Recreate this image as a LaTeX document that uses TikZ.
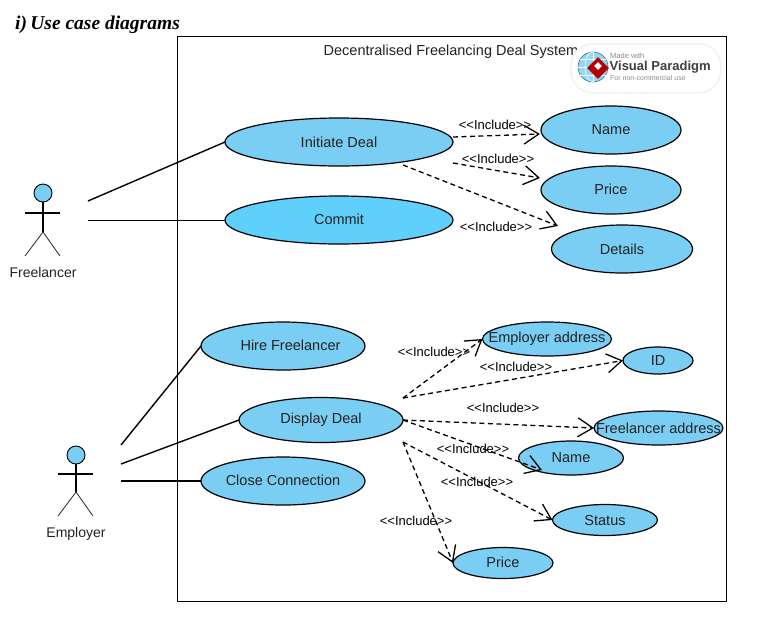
\documentclass[tikz,border=0pt]{standalone}
\usepackage{fontspec}
\setmainfont{Liberation Sans}
\newfontfamily\headfont{Liberation Serif}
\usetikzlibrary{shapes.geometric,arrows.meta}
\definecolor{ucfill}{HTML}{7ACEF4}
\definecolor{ucbright}{HTML}{5FCFFC}
\definecolor{txt}{HTML}{222222}
\newcommand{\uctext}[1]{\makebox[0pt]{#1}}
\newcommand{\inctext}{{<}{<}Include{>}{>}}
\tikzset{
  usecase/.style={ellipse,draw=black,line width=1.2pt,fill=ucfill,inner sep=0pt,outer sep=0pt,text=txt,font=\fontsize{14.5}{16}\selectfont},
  inc/.style={draw=black,line width=1.3pt,dash pattern=on 5pt off 3.5pt,-{Straight Barb[length=15pt,width=19pt,line width=1.3pt]}},
  assoc/.style={draw=black,line width=1.4pt},
  inclabel/.style={inner sep=0pt,text=black,font=\fontsize{13}{15}\selectfont},
  actorhead/.style={circle,draw=black,line width=.9pt,fill=ucfill,minimum size=18pt,inner sep=0pt,outer sep=0pt},
  actorlabel/.style={inner sep=0pt,text=txt,font=\fontsize{14}{16}\selectfont},
  stick/.style={draw=black,line width=1.5pt},
  leg/.style={draw=black!85,line width=.8pt}
}
\begin{document}
\begin{tikzpicture}[x=1pt,y=-1pt]
\useasboundingbox (0,0) rectangle (757,622);
\fill[white] (0,0) rectangle (757,622);
\node[anchor=west,inner sep=0pt,font=\headfont\bfseries\itshape\fontsize{19.5}{22}\selectfont] (heading) at (15,25) {i)\,Use case diagrams};
\node[draw=black,line width=.8pt,minimum width=549pt,minimum height=565pt,inner sep=0pt,outer sep=0pt,anchor=north west] (system) at (177,36) {};
\node[inner sep=0pt,text=txt,font=\fontsize{14.5}{16}\selectfont] (systitle) at (451,52) {Decentralised Freelancing Deal System};

% logo
\node[draw=black!5,line width=1.5pt,fill=white,rounded corners=22pt,minimum width=150pt,minimum height=49pt,inner sep=0pt,anchor=north west] (logo) at (570,43) {};
\node[circle,draw=black!45!ucfill,line width=.6pt,fill=ucfill!80,minimum size=30pt,inner sep=0pt] (globe) at (593,67) {};
\draw[white,line width=.6pt] (globe.north) arc[start angle=90,end angle=270,x radius=8pt,y radius=15pt];
\draw[white,line width=.6pt] (globe.north) -- (globe.south);
\draw[white,line width=.6pt] (globe.west) -- (globe.east);
\draw[white,line width=.6pt] (580,59) -- (606,59) (580,75) -- (606,75);
\node[diamond,fill=red!70!black,minimum size=22pt,inner sep=0pt] (gem) at (598,68) {};
\node[diamond,fill=white,minimum size=8pt,inner sep=0pt] (gemcore) at (598,66) {};
\node[anchor=west,inner sep=0pt,text=black!45,font=\fontsize{7.5}{8}\selectfont] (logoa) at (610,56) {Made with};
\node[anchor=west,inner sep=0pt,text=black!75,font=\bfseries\fontsize{13}{14}\selectfont] (logob) at (609.5,67) {Visual Paradigm};
\node[anchor=west,inner sep=0pt,text=black!45,font=\fontsize{7}{8}\selectfont] (logoc) at (610,78) {For non-commercial use};

% use cases
\node[usecase,minimum width=228pt,minimum height=48pt] (initiate) at (339,142) {\uctext{Initiate Deal}};
\node[usecase,fill=ucbright,minimum width=228pt,minimum height=48pt] (commit) at (339,220) {\uctext{\raisebox{1pt}{Commit}}};
\node[usecase,minimum width=140pt,minimum height=48pt] (name1) at (611,130) {\uctext{Name}};
\node[usecase,minimum width=140pt,minimum height=48pt] (price1) at (611,190) {\uctext{\raisebox{1pt}{Price}}};
\node[usecase,minimum width=141pt,minimum height=48pt] (details) at (622,249) {\uctext{Details}};
\node[usecase,minimum width=164pt,minimum height=48pt] (hire) at (283,346) {\uctext{\hspace{15pt}\raisebox{2pt}{Hire Freelancer}}};
\node[usecase,minimum width=164pt,minimum height=45pt] (display) at (321,420) {\uctext{\raisebox{-1pt}{Display Deal}}};
\node[usecase,minimum width=164pt,minimum height=48pt] (close) at (283,481) {\uctext{\raisebox{1pt}{Close Connection}}};
\node[usecase,minimum width=129pt,minimum height=34pt] (empaddr) at (547,339) {\uctext{Employer address}};
\node[usecase,minimum width=70pt,minimum height=27pt] (id) at (658,360.5) {\uctext{ID}};
\node[usecase,minimum width=129pt,minimum height=34pt] (freeaddr) at (658.5,428) {\uctext{Freelancer address}};
\node[usecase,minimum width=105pt,minimum height=34pt] (name2) at (571,458) {\uctext{Name}};
\node[usecase,minimum width=105pt,minimum height=31pt] (status) at (605,520) {\uctext{Status}};
\node[usecase,minimum width=100pt,minimum height=31pt] (price2) at (503,563) {\uctext{\raisebox{1pt}{Price}}};

% actors
\node[actorhead] (freelancer) at (43,193) {};
\coordinate (fhip) at (43,232);
\draw[stick] (freelancer.south) -- (fhip);
\draw[stick] (25,213) -- (60,213);
\draw[leg] (25,256) -- (fhip) -- (60,256);
\node[actorlabel] (flabel) at (43,272) {Freelancer};
\node[actorhead] (employer) at (76,455) {};
\coordinate (ehip) at (76,492);
\draw[stick] (employer.south) -- (ehip);
\draw[stick] (58,474) -- (93,474);
\draw[leg] (58,516) -- (ehip) -- (93,516);
\node[actorlabel] (elabel) at (76,534) {Employer};

% associations
\coordinate (fa) at (88,201);
\coordinate (fb) at (88,220);
\coordinate (ea) at (121,445);
\coordinate (eb) at (121,464);
\coordinate (ec) at (121,481);
\draw[assoc] (fa) -- (initiate.west);
\draw[assoc,line width=.9pt] (fb) -- (commit.west);
\draw[assoc] (ea) -- (hire.west);
\draw[assoc] (eb) -- (display.west);
\draw[assoc] (ec) -- (close.west);

% includes
\coordinate (ia) at (453,137);
\coordinate (ib) at (453,163);
\coordinate (ic) at (403,165);
\coordinate (dtl) at (558,226);
\coordinate (pr1) at (540,178);
\coordinate (nm1) at (540,134);
\draw[inc] (ia) -- (nm1);
\draw[inc] (ib) -- (pr1);
\draw[inc] (ic) -- (dtl);
\coordinate (da) at (403,398);
\coordinate (db) at (403,420);
\coordinate (dc) at (403,442);
\coordinate (nm2) at (542,470);
\draw[inc] (da) -- (empaddr.west);
\draw[inc] (da) -- (id.west);
\draw[inc] (db) -- (freeaddr.west);
\draw[inc] (db) -- (nm2);
\draw[inc] (dc) -- (status.west);
\draw[inc] (dc) -- (price2.west);

% labels
\node[inclabel] (l1) at (495,125) {\inctext};
\node[inclabel] (l2) at (498,159) {\inctext};
\node[inclabel] (l3) at (496,227) {\inctext};
\node[inclabel] (l4) at (434,352) {\inctext};
\node[inclabel] (l5) at (516,367) {\inctext};
\node[inclabel] (l6) at (503,408) {\inctext};
\node[inclabel] (l7) at (473,449) {\inctext};
\node[inclabel] (l8) at (477,482) {\inctext};
\node[inclabel] (l9) at (416,521) {\inctext};
\end{tikzpicture}
\end{document}
